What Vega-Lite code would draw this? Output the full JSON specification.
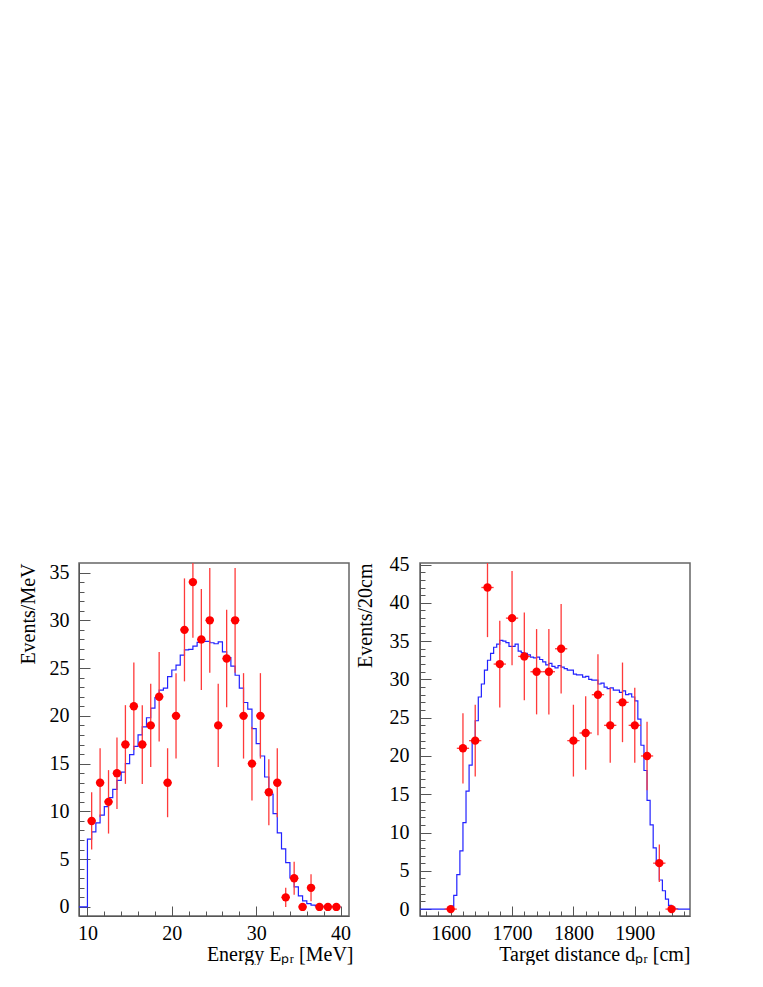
{
  "$schema": "https://vega.github.io/schema/vega-lite/v6.json",
  "background": "white",
  "padding": {"left": 17, "top": 553, "right": 0, "bottom": 0},
  "bounds": "flush",
  "spacing": 71,
  "config": {
    "font": "Liberation Serif",
    "view": {"stroke": "#666666", "strokeWidth": 1.5},
    "axis": {
      "labelFont": "Liberation Serif", "labelFontSize": 20, "labelColor": "#000000",
      "titleFont": "Liberation Serif", "titleFontSize": 20, "titleFontWeight": "normal", "titleColor": "#000000",
      "grid": false, "domainColor": "#555555", "tickColor": "#555555", "tickWidth": 1,
      "labelOverlap": false, "labelFlush": false, "labelBound": false
    }
  },
  "datasets": {
    "eData": [
      {"E": 10.5, "n": 9, "lo": 6, "hi": 12, "xlo": 10, "xhi": 11},
      {"E": 11.5, "n": 13, "lo": 9.39, "hi": 16.61, "xlo": 11, "xhi": 12},
      {"E": 12.5, "n": 11, "lo": 7.68, "hi": 14.32, "xlo": 12, "xhi": 13},
      {"E": 13.5, "n": 14, "lo": 10.26, "hi": 17.74, "xlo": 13, "xhi": 14},
      {"E": 14.5, "n": 17, "lo": 12.88, "hi": 21.12, "xlo": 14, "xhi": 15},
      {"E": 15.5, "n": 21, "lo": 16.42, "hi": 25.58, "xlo": 15, "xhi": 16},
      {"E": 16.5, "n": 17, "lo": 12.88, "hi": 21.12, "xlo": 16, "xhi": 17},
      {"E": 17.5, "n": 19, "lo": 14.64, "hi": 23.36, "xlo": 17, "xhi": 18},
      {"E": 18.5, "n": 22, "lo": 17.31, "hi": 26.69, "xlo": 18, "xhi": 19},
      {"E": 19.5, "n": 13, "lo": 9.39, "hi": 16.61, "xlo": 19, "xhi": 20},
      {"E": 20.5, "n": 20, "lo": 15.53, "hi": 24.47, "xlo": 20, "xhi": 21},
      {"E": 21.5, "n": 29, "lo": 23.61, "hi": 34.39, "xlo": 21, "xhi": 22},
      {"E": 22.5, "n": 34, "lo": 28.17, "hi": 39.83, "xlo": 22, "xhi": 23},
      {"E": 23.5, "n": 28, "lo": 22.71, "hi": 33.29, "xlo": 23, "xhi": 24},
      {"E": 24.5, "n": 30, "lo": 24.52, "hi": 35.48, "xlo": 24, "xhi": 25},
      {"E": 25.5, "n": 19, "lo": 14.64, "hi": 23.36, "xlo": 25, "xhi": 26},
      {"E": 26.5, "n": 26, "lo": 20.9, "hi": 31.1, "xlo": 26, "xhi": 27},
      {"E": 27.5, "n": 30, "lo": 24.52, "hi": 35.48, "xlo": 27, "xhi": 28},
      {"E": 28.5, "n": 20, "lo": 15.53, "hi": 24.47, "xlo": 28, "xhi": 29},
      {"E": 29.5, "n": 15, "lo": 11.13, "hi": 18.87, "xlo": 29, "xhi": 30},
      {"E": 30.5, "n": 20, "lo": 15.53, "hi": 24.47, "xlo": 30, "xhi": 31},
      {"E": 31.5, "n": 12, "lo": 8.54, "hi": 15.46, "xlo": 31, "xhi": 32},
      {"E": 32.5, "n": 13, "lo": 9.39, "hi": 16.61, "xlo": 32, "xhi": 33},
      {"E": 33.5, "n": 1, "lo": 0, "hi": 2, "xlo": 33, "xhi": 34},
      {"E": 34.5, "n": 3, "lo": 1.27, "hi": 4.73, "xlo": 34, "xhi": 35},
      {"E": 35.5, "n": 0, "lo": 0, "hi": 0, "xlo": 35, "xhi": 36},
      {"E": 36.5, "n": 2, "lo": 0.59, "hi": 3.41, "xlo": 36, "xhi": 37},
      {"E": 37.5, "n": 0, "lo": 0, "hi": 0, "xlo": 37, "xhi": 38},
      {"E": 38.5, "n": 0, "lo": 0, "hi": 0, "xlo": 38, "xhi": 39},
      {"E": 39.5, "n": 0, "lo": 0, "hi": 0, "xlo": 39, "xhi": 40}
    ],
    "eMC": [
      {"E": 9, "mc": 0}, {"E": 9.5, "mc": 0},
      {"E": 10, "mc": 7.1}, {"E": 10.5, "mc": 7.85}, {"E": 11, "mc": 8.8}, {"E": 11.5, "mc": 9.6},
      {"E": 12, "mc": 10.5}, {"E": 12.5, "mc": 11.45}, {"E": 13, "mc": 12.3}, {"E": 13.5, "mc": 13.25},
      {"E": 14, "mc": 14.1}, {"E": 14.5, "mc": 15.0}, {"E": 15, "mc": 15.95}, {"E": 15.5, "mc": 16.8},
      {"E": 16, "mc": 18.0}, {"E": 16.5, "mc": 18.85}, {"E": 17, "mc": 19.8}, {"E": 17.5, "mc": 20.8},
      {"E": 18, "mc": 21.9}, {"E": 18.5, "mc": 22.7}, {"E": 19, "mc": 22.9}, {"E": 19.5, "mc": 24.1},
      {"E": 20, "mc": 24.8}, {"E": 20.5, "mc": 25.3}, {"E": 21, "mc": 26.35}, {"E": 21.5, "mc": 26.9},
      {"E": 22, "mc": 26.95}, {"E": 22.5, "mc": 27.3}, {"E": 23, "mc": 27.7}, {"E": 23.5, "mc": 27.8},
      {"E": 24, "mc": 27.8}, {"E": 24.5, "mc": 27.65}, {"E": 25, "mc": 27.55}, {"E": 25.5, "mc": 27.75},
      {"E": 26, "mc": 26.7}, {"E": 26.5, "mc": 26.1}, {"E": 27, "mc": 25.2}, {"E": 27.5, "mc": 24.25},
      {"E": 28, "mc": 22.9}, {"E": 28.5, "mc": 21.4}, {"E": 29, "mc": 20.7}, {"E": 29.5, "mc": 18.67},
      {"E": 30, "mc": 17.1}, {"E": 30.5, "mc": 15.8}, {"E": 31, "mc": 13.6}, {"E": 31.5, "mc": 11.8},
      {"E": 32, "mc": 9.77}, {"E": 32.5, "mc": 7.75}, {"E": 33, "mc": 6.07}, {"E": 33.5, "mc": 4.64},
      {"E": 34, "mc": 3.04}, {"E": 34.5, "mc": 2.1}, {"E": 35, "mc": 1.15}, {"E": 35.5, "mc": 0.63},
      {"E": 36, "mc": 0.35}, {"E": 36.5, "mc": 0.18}, {"E": 37, "mc": 0.1}, {"E": 37.5, "mc": 0.06},
      {"E": 38, "mc": 0.04}, {"E": 38.5, "mc": 0.03}, {"E": 39, "mc": 0.02}, {"E": 39.5, "mc": 0.01},
      {"E": 40, "mc": 0.01}
    ],
    "dData": [
      {"d": 1600, "n": 0, "lo": 0, "hi": 0, "xlo": 1590, "xhi": 1610},
      {"d": 1620, "n": 21, "lo": 16.42, "hi": 25.58, "xlo": 1610, "xhi": 1630},
      {"d": 1640, "n": 22, "lo": 17.31, "hi": 26.69, "xlo": 1630, "xhi": 1650},
      {"d": 1660, "n": 42, "lo": 35.52, "hi": 48.48, "xlo": 1650, "xhi": 1670},
      {"d": 1680, "n": 32, "lo": 26.34, "hi": 37.66, "xlo": 1670, "xhi": 1690},
      {"d": 1700, "n": 38, "lo": 31.84, "hi": 44.16, "xlo": 1690, "xhi": 1710},
      {"d": 1720, "n": 33, "lo": 27.26, "hi": 38.74, "xlo": 1710, "xhi": 1730},
      {"d": 1740, "n": 31, "lo": 25.43, "hi": 36.57, "xlo": 1730, "xhi": 1750},
      {"d": 1760, "n": 31, "lo": 25.43, "hi": 36.57, "xlo": 1750, "xhi": 1770},
      {"d": 1780, "n": 34, "lo": 28.17, "hi": 39.83, "xlo": 1770, "xhi": 1790},
      {"d": 1800, "n": 22, "lo": 17.31, "hi": 26.69, "xlo": 1790, "xhi": 1810},
      {"d": 1820, "n": 23, "lo": 18.2, "hi": 27.8, "xlo": 1810, "xhi": 1830},
      {"d": 1840, "n": 28, "lo": 22.71, "hi": 33.29, "xlo": 1830, "xhi": 1850},
      {"d": 1860, "n": 24, "lo": 19.1, "hi": 28.9, "xlo": 1850, "xhi": 1870},
      {"d": 1880, "n": 27, "lo": 21.8, "hi": 32.2, "xlo": 1870, "xhi": 1890},
      {"d": 1900, "n": 24, "lo": 19.1, "hi": 28.9, "xlo": 1890, "xhi": 1910},
      {"d": 1920, "n": 20, "lo": 15.53, "hi": 24.47, "xlo": 1910, "xhi": 1930},
      {"d": 1940, "n": 6, "lo": 3.55, "hi": 8.45, "xlo": 1930, "xhi": 1950},
      {"d": 1960, "n": 0, "lo": 0, "hi": 0, "xlo": 1950, "xhi": 1970}
    ],
    "dMC": [
      {"d": 1550, "mc": 0}, {"d": 1555, "mc": 0}, {"d": 1560, "mc": 0}, {"d": 1565, "mc": 0},
      {"d": 1570, "mc": 0}, {"d": 1575, "mc": 0}, {"d": 1580, "mc": 0}, {"d": 1585, "mc": 0},
      {"d": 1590, "mc": 0}, {"d": 1595, "mc": 0.05}, {"d": 1600, "mc": 0.4}, {"d": 1605, "mc": 1.8},
      {"d": 1610, "mc": 4.5}, {"d": 1615, "mc": 7.6}, {"d": 1620, "mc": 11.3}, {"d": 1625, "mc": 15.4},
      {"d": 1630, "mc": 18.8}, {"d": 1635, "mc": 22.1}, {"d": 1640, "mc": 24.6}, {"d": 1645, "mc": 27.7},
      {"d": 1650, "mc": 29.4}, {"d": 1655, "mc": 31.2}, {"d": 1660, "mc": 32.5}, {"d": 1665, "mc": 33.4},
      {"d": 1670, "mc": 34.2}, {"d": 1675, "mc": 34.6}, {"d": 1680, "mc": 35.1}, {"d": 1685, "mc": 35.0},
      {"d": 1690, "mc": 34.8}, {"d": 1695, "mc": 34.3}, {"d": 1700, "mc": 34.3}, {"d": 1705, "mc": 34.6},
      {"d": 1710, "mc": 33.7}, {"d": 1715, "mc": 33.5}, {"d": 1720, "mc": 33.4}, {"d": 1725, "mc": 33.2},
      {"d": 1730, "mc": 32.9}, {"d": 1735, "mc": 32.8}, {"d": 1740, "mc": 32.9}, {"d": 1745, "mc": 32.6},
      {"d": 1750, "mc": 32.3}, {"d": 1755, "mc": 31.9}, {"d": 1760, "mc": 32.1}, {"d": 1765, "mc": 31.7},
      {"d": 1770, "mc": 31.5}, {"d": 1775, "mc": 31.8}, {"d": 1780, "mc": 31.6}, {"d": 1785, "mc": 31.4},
      {"d": 1790, "mc": 31.2}, {"d": 1795, "mc": 31.2}, {"d": 1800, "mc": 30.7}, {"d": 1805, "mc": 30.6},
      {"d": 1810, "mc": 30.6}, {"d": 1815, "mc": 30.3}, {"d": 1820, "mc": 30.4}, {"d": 1825, "mc": 30.0},
      {"d": 1830, "mc": 29.9}, {"d": 1835, "mc": 29.9}, {"d": 1840, "mc": 29.4}, {"d": 1845, "mc": 29.5},
      {"d": 1850, "mc": 29.0}, {"d": 1855, "mc": 28.8}, {"d": 1860, "mc": 28.9}, {"d": 1865, "mc": 28.6},
      {"d": 1870, "mc": 28.6}, {"d": 1875, "mc": 28.3}, {"d": 1880, "mc": 28.5}, {"d": 1885, "mc": 28.0},
      {"d": 1890, "mc": 28.1}, {"d": 1895, "mc": 27.7}, {"d": 1900, "mc": 27.2}, {"d": 1905, "mc": 24.8},
      {"d": 1910, "mc": 21.4}, {"d": 1915, "mc": 18.1}, {"d": 1920, "mc": 14.2}, {"d": 1925, "mc": 11.0},
      {"d": 1930, "mc": 8.0}, {"d": 1935, "mc": 5.8}, {"d": 1940, "mc": 3.8}, {"d": 1945, "mc": 2.4},
      {"d": 1950, "mc": 1.3}, {"d": 1955, "mc": 0.5}, {"d": 1960, "mc": 0.2}, {"d": 1965, "mc": 0.05},
      {"d": 1970, "mc": 0}, {"d": 1975, "mc": 0}, {"d": 1980, "mc": 0}, {"d": 1985, "mc": 0},
      {"d": 1990, "mc": 0}
    ]
  },
  "hconcat": [
    {
      "width": 270,
      "height": 353,
      "layer": [
        {
          "data": {"name": "eMC"},
          "mark": {"type": "line", "interpolate": "step-after", "color": "#2222ff", "strokeWidth": 1.2, "clip": true},
          "encoding": {
            "x": {"field": "E", "type": "quantitative",
              "scale": {"domain": [9, 41], "nice": false, "zero": false},
              "axis": {"values": [10, 12, 14, 16, 18, 20, 22, 24, 26, 28, 30, 32, 34, 36, 38, 40], "tickSize": {"condition": {"test": "datum.value % 10 === 0", "value": -10}, "value": -5}, "labelExpr": "datum.value % 10 === 0 ? datum.label : ''", "labelPadding": 17, "title": "Energy Eₚᵣ [MeV]", "titleAnchor": "end", "titleX": 274, "titlePadding": -4}
            },
            "y": {"field": "mc", "type": "quantitative",
              "scale": {"domain": [-0.95, 36], "nice": false, "zero": false},
              "axis": {"values": [0,1,2,3,4,5,6,7,8,9,10,11,12,13,14,15,16,17,18,19,20,21,22,23,24,25,26,27,28,29,30,31,32,33,34,35], "tickSize": {"condition": {"test": "datum.value % 5 === 0", "value": -11}, "value": -5}, "labelExpr": "datum.value % 5 === 0 ? datum.label : ''", "labelPadding": 21, "title": "Events/MeV", "titleAnchor": "end", "titlePadding": 11}
            }
          }
        },
        {
          "data": {"name": "eData"},
          "mark": {"type": "rule", "color": "#ff3a3a", "strokeWidth": 1.3, "clip": true},
          "encoding": {
            "x": {"field": "E", "type": "quantitative",
              "scale": {"domain": [9, 41], "nice": false, "zero": false},
              "axis": {"values": [10, 12, 14, 16, 18, 20, 22, 24, 26, 28, 30, 32, 34, 36, 38, 40], "tickSize": {"condition": {"test": "datum.value % 10 === 0", "value": -10}, "value": -5}, "labelExpr": "datum.value % 10 === 0 ? datum.label : ''", "labelPadding": 17, "title": "Energy Eₚᵣ [MeV]", "titleAnchor": "end", "titleX": 274, "titlePadding": -4}
            },
            "y": {"field": "lo", "type": "quantitative",
              "scale": {"domain": [-0.95, 36], "nice": false, "zero": false},
              "axis": {"values": [0,1,2,3,4,5,6,7,8,9,10,11,12,13,14,15,16,17,18,19,20,21,22,23,24,25,26,27,28,29,30,31,32,33,34,35], "tickSize": {"condition": {"test": "datum.value % 5 === 0", "value": -11}, "value": -5}, "labelExpr": "datum.value % 5 === 0 ? datum.label : ''", "labelPadding": 21, "title": "Events/MeV", "titleAnchor": "end", "titlePadding": 11}
            },
            "y2": {"field": "hi"}
          }
        },
        {
          "data": {"name": "eData"},
          "mark": {"type": "rule", "color": "#ff3a3a", "strokeWidth": 1.3, "clip": true},
          "encoding": {
            "x": {"field": "xlo", "type": "quantitative",
              "scale": {"domain": [9, 41], "nice": false, "zero": false},
              "axis": {"values": [10, 12, 14, 16, 18, 20, 22, 24, 26, 28, 30, 32, 34, 36, 38, 40], "tickSize": {"condition": {"test": "datum.value % 10 === 0", "value": -10}, "value": -5}, "labelExpr": "datum.value % 10 === 0 ? datum.label : ''", "labelPadding": 17, "title": "Energy Eₚᵣ [MeV]", "titleAnchor": "end", "titleX": 274, "titlePadding": -4}
            },
            "x2": {"field": "xhi"},
            "y": {"field": "n", "type": "quantitative",
              "scale": {"domain": [-0.95, 36], "nice": false, "zero": false},
              "axis": {"values": [0,1,2,3,4,5,6,7,8,9,10,11,12,13,14,15,16,17,18,19,20,21,22,23,24,25,26,27,28,29,30,31,32,33,34,35], "tickSize": {"condition": {"test": "datum.value % 5 === 0", "value": -11}, "value": -5}, "labelExpr": "datum.value % 5 === 0 ? datum.label : ''", "labelPadding": 21, "title": "Events/MeV", "titleAnchor": "end", "titlePadding": 11}
            }
          }
        },
        {
          "data": {"name": "eData"},
          "mark": {"type": "circle", "color": "#ff0000", "size": 70, "opacity": 1, "clip": true},
          "encoding": {
            "x": {"field": "E", "type": "quantitative",
              "scale": {"domain": [9, 41], "nice": false, "zero": false},
              "axis": {"values": [10, 12, 14, 16, 18, 20, 22, 24, 26, 28, 30, 32, 34, 36, 38, 40], "tickSize": {"condition": {"test": "datum.value % 10 === 0", "value": -10}, "value": -5}, "labelExpr": "datum.value % 10 === 0 ? datum.label : ''", "labelPadding": 17, "title": "Energy Eₚᵣ [MeV]", "titleAnchor": "end", "titleX": 274, "titlePadding": -4}
            },
            "y": {"field": "n", "type": "quantitative",
              "scale": {"domain": [-0.95, 36], "nice": false, "zero": false},
              "axis": {"values": [0,1,2,3,4,5,6,7,8,9,10,11,12,13,14,15,16,17,18,19,20,21,22,23,24,25,26,27,28,29,30,31,32,33,34,35], "tickSize": {"condition": {"test": "datum.value % 5 === 0", "value": -11}, "value": -5}, "labelExpr": "datum.value % 5 === 0 ? datum.label : ''", "labelPadding": 21, "title": "Events/MeV", "titleAnchor": "end", "titlePadding": 11}
            }
          }
        }
      ]
    },
    {
      "width": 270,
      "height": 353,
      "layer": [
        {
          "data": {"name": "dMC"},
          "mark": {"type": "line", "interpolate": "step-after", "color": "#2222ff", "strokeWidth": 1.2, "clip": true},
          "encoding": {
            "x": {"field": "d", "type": "quantitative",
              "scale": {"domain": [1550, 1990], "nice": false, "zero": false},
              "axis": {"values": [1560, 1580, 1600, 1620, 1640, 1660, 1680, 1700, 1720, 1740, 1760, 1780, 1800, 1820, 1840, 1860, 1880, 1900, 1920, 1940, 1960, 1980], "tickSize": {"condition": {"test": "datum.value % 100 === 0", "value": -10}, "value": -5}, "labelExpr": "datum.value % 100 === 0 ? datum.label : ''", "format": "d", "labelPadding": 17, "title": "Target distance dₚᵣ [cm]", "titleAnchor": "end", "titlePadding": -4}
            },
            "y": {"field": "mc", "type": "quantitative",
              "scale": {"domain": [-0.9, 45.2], "nice": false, "zero": false},
              "axis": {"values": [0,1,2,3,4,5,6,7,8,9,10,11,12,13,14,15,16,17,18,19,20,21,22,23,24,25,26,27,28,29,30,31,32,33,34,35,36,37,38,39,40,41,42,43,44,45], "tickSize": {"condition": {"test": "datum.value % 5 === 0", "value": -11}, "value": -5}, "labelExpr": "datum.value % 5 === 0 ? datum.label : ''", "labelPadding": 22, "title": "Events/20cm", "titleAnchor": "end", "titlePadding": 14}
            }
          }
        },
        {
          "data": {"name": "dData"},
          "mark": {"type": "rule", "color": "#ff3a3a", "strokeWidth": 1.3, "clip": true},
          "encoding": {
            "x": {"field": "d", "type": "quantitative",
              "scale": {"domain": [1550, 1990], "nice": false, "zero": false},
              "axis": {"values": [1560, 1580, 1600, 1620, 1640, 1660, 1680, 1700, 1720, 1740, 1760, 1780, 1800, 1820, 1840, 1860, 1880, 1900, 1920, 1940, 1960, 1980], "tickSize": {"condition": {"test": "datum.value % 100 === 0", "value": -10}, "value": -5}, "labelExpr": "datum.value % 100 === 0 ? datum.label : ''", "format": "d", "labelPadding": 17, "title": "Target distance dₚᵣ [cm]", "titleAnchor": "end", "titlePadding": -4}
            },
            "y": {"field": "lo", "type": "quantitative",
              "scale": {"domain": [-0.9, 45.2], "nice": false, "zero": false},
              "axis": {"values": [0,1,2,3,4,5,6,7,8,9,10,11,12,13,14,15,16,17,18,19,20,21,22,23,24,25,26,27,28,29,30,31,32,33,34,35,36,37,38,39,40,41,42,43,44,45], "tickSize": {"condition": {"test": "datum.value % 5 === 0", "value": -11}, "value": -5}, "labelExpr": "datum.value % 5 === 0 ? datum.label : ''", "labelPadding": 22, "title": "Events/20cm", "titleAnchor": "end", "titlePadding": 14}
            },
            "y2": {"field": "hi"}
          }
        },
        {
          "data": {"name": "dData"},
          "mark": {"type": "rule", "color": "#ff3a3a", "strokeWidth": 1.3, "clip": true},
          "encoding": {
            "x": {"field": "xlo", "type": "quantitative",
              "scale": {"domain": [1550, 1990], "nice": false, "zero": false},
              "axis": {"values": [1560, 1580, 1600, 1620, 1640, 1660, 1680, 1700, 1720, 1740, 1760, 1780, 1800, 1820, 1840, 1860, 1880, 1900, 1920, 1940, 1960, 1980], "tickSize": {"condition": {"test": "datum.value % 100 === 0", "value": -10}, "value": -5}, "labelExpr": "datum.value % 100 === 0 ? datum.label : ''", "format": "d", "labelPadding": 17, "title": "Target distance dₚᵣ [cm]", "titleAnchor": "end", "titlePadding": -4}
            },
            "x2": {"field": "xhi"},
            "y": {"field": "n", "type": "quantitative",
              "scale": {"domain": [-0.9, 45.2], "nice": false, "zero": false},
              "axis": {"values": [0,1,2,3,4,5,6,7,8,9,10,11,12,13,14,15,16,17,18,19,20,21,22,23,24,25,26,27,28,29,30,31,32,33,34,35,36,37,38,39,40,41,42,43,44,45], "tickSize": {"condition": {"test": "datum.value % 5 === 0", "value": -11}, "value": -5}, "labelExpr": "datum.value % 5 === 0 ? datum.label : ''", "labelPadding": 22, "title": "Events/20cm", "titleAnchor": "end", "titlePadding": 14}
            }
          }
        },
        {
          "data": {"name": "dData"},
          "mark": {"type": "circle", "color": "#ff0000", "size": 70, "opacity": 1, "clip": true},
          "encoding": {
            "x": {"field": "d", "type": "quantitative",
              "scale": {"domain": [1550, 1990], "nice": false, "zero": false},
              "axis": {"values": [1560, 1580, 1600, 1620, 1640, 1660, 1680, 1700, 1720, 1740, 1760, 1780, 1800, 1820, 1840, 1860, 1880, 1900, 1920, 1940, 1960, 1980], "tickSize": {"condition": {"test": "datum.value % 100 === 0", "value": -10}, "value": -5}, "labelExpr": "datum.value % 100 === 0 ? datum.label : ''", "format": "d", "labelPadding": 17, "title": "Target distance dₚᵣ [cm]", "titleAnchor": "end", "titlePadding": -4}
            },
            "y": {"field": "n", "type": "quantitative",
              "scale": {"domain": [-0.9, 45.2], "nice": false, "zero": false},
              "axis": {"values": [0,1,2,3,4,5,6,7,8,9,10,11,12,13,14,15,16,17,18,19,20,21,22,23,24,25,26,27,28,29,30,31,32,33,34,35,36,37,38,39,40,41,42,43,44,45], "tickSize": {"condition": {"test": "datum.value % 5 === 0", "value": -11}, "value": -5}, "labelExpr": "datum.value % 5 === 0 ? datum.label : ''", "labelPadding": 22, "title": "Events/20cm", "titleAnchor": "end", "titlePadding": 14}
            }
          }
        }
      ]
    }
  ]
}
